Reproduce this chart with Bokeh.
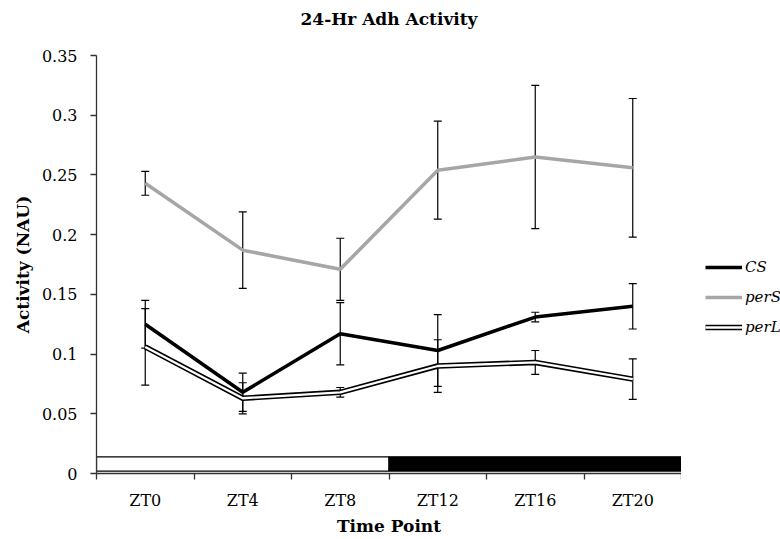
from bokeh.plotting import figure
from bokeh.layouts import row
from bokeh.models import (Whisker, ColumnDataSource, FixedTicker, Legend, LegendItem,
                          Range1d, TeeHead, LinearAxis)
from bokeh.embed import file_html
from bokeh.resources import INLINE

# ---------------- data ----------------
categories = ["ZT0", "ZT4", "ZT8", "ZT12", "ZT16", "ZT20"]
cs_mean = [0.125, 0.068, 0.117, 0.103, 0.131, 0.140]
cs_err = [0.020, 0.016, 0.026, 0.030, 0.004, 0.019]
pers_mean = [0.243, 0.187, 0.171, 0.254, 0.265, 0.256]
pers_err = [0.010, 0.032, 0.026, 0.041, 0.060, 0.058]
perl_mean = [0.106, 0.063, 0.068, 0.090, 0.093, 0.079]
perl_err = [0.032, 0.013, 0.004, 0.022, 0.010, 0.017]
phase = ["light", "light", "light", "dark", "dark", "dark"]
yticks = [0, 0.05, 0.1, 0.15, 0.2, 0.25, 0.3, 0.35]
ytick_labels = ["0", "0.05", "0.1", "0.15", "0.2", "0.25", "0.3", "0.35"]
series_names = ["CS", "perS", "perL"]

FONT = "DejaVu Serif"
xs = list(range(len(categories)))
n = len(categories)

CS_STYLE = dict(line_color="black", line_width=3.5)
PERS_STYLE = dict(line_color="#A6A6A6", line_width=3.5)
PERL_OUTER = dict(line_color="black", line_width=5.5)
PERL_INNER = dict(line_color="white", line_width=2.3)

BORDER_TOP, BORDER_BOTTOM = 55, 66
p = figure(width=681, height=539, output_backend="svg", toolbar_location=None,
           title_location=None,
           x_range=Range1d(-0.5, n - 0.5), y_range=Range1d(0, 0.35),
           min_border_left=96, min_border_right=0,
           min_border_top=BORDER_TOP, min_border_bottom=BORDER_BOTTOM)
p.outline_line_color = None
p.xgrid.grid_line_color = None
p.ygrid.grid_line_color = None

# day / night bar
segs = []
for i, ph in enumerate(phase):
    if segs and segs[-1][0] == ph:
        segs[-1][2] = i
    else:
        segs.append([ph, i, i])
bar_src = ColumnDataSource(dict(
    left=[s[1] - 0.5 for s in segs], right=[s[2] + 0.5 for s in segs],
    color=["white" if s[0] == "light" else "black" for s in segs]))
p.quad(left="left", right="right", bottom=0.002, top=0.014, source=bar_src,
       fill_color="color", line_color="black", line_width=1.2)

# lines
p.line(xs, cs_mean, **CS_STYLE)
p.line(xs, pers_mean, **PERS_STYLE)
p.line(xs, perl_mean, **PERL_OUTER)
p.line(xs, perl_mean, **PERL_INNER)

# error bars
for mean, err in ((cs_mean, cs_err), (pers_mean, pers_err), (perl_mean, perl_err)):
    src = ColumnDataSource(dict(x=xs, upper=[m + e for m, e in zip(mean, err)],
                                lower=[m - e for m, e in zip(mean, err)]))
    w = Whisker(source=src, base="x", upper="upper", lower="lower",
                line_color="black", line_width=1.2,
                upper_head=TeeHead(size=8, line_color="black", line_width=1.2),
                lower_head=TeeHead(size=8, line_color="black", line_width=1.2))
    p.add_layout(w)

# axes
xa = p.below[0]
ya = p.left[0]
xa.ticker = FixedTicker(ticks=xs, minor_ticks=[i - 0.5 for i in range(n + 1)])
xa.major_label_overrides = {i: c for i, c in zip(xs, categories)}
xa.major_tick_out = 0
xa.major_tick_in = 0
xa.minor_tick_out = 6
xa.minor_tick_in = 0
xa.minor_tick_line_color = "#333333"
xa.major_label_standoff = 11
xa.axis_label = "Time Point"
xa.axis_label_standoff = 3

ya.ticker = FixedTicker(ticks=yticks)
ya.major_label_overrides = {t: l for t, l in zip(yticks, ytick_labels)}
ya.major_tick_out = 6
ya.major_tick_in = 0
ya.major_label_standoff = 13
ya.axis_label = "Activity (NAU)"
ya.axis_label_standoff = 6

for ax in (xa, ya):
    ax.axis_line_color = "#333333"
    ax.axis_line_width = 1.3
    ax.major_tick_line_color = "#333333"
    ax.major_tick_line_width = 1.3
    ax.minor_tick_line_width = 1.3
    ax.major_label_text_font = FONT
    ax.major_label_text_font_size = "16px"
    ax.major_label_text_color = "black"
    ax.axis_label_text_font = FONT
    ax.axis_label_text_font_style = "bold"
    ax.axis_label_text_font_size = "17px"
    ax.axis_label_text_color = "black"

# title as the label of an otherwise invisible top axis (centred over the plot area)
top_axis = LinearAxis(ticker=FixedTicker(ticks=[]), axis_line_color=None,
                      major_tick_out=0, major_tick_in=0, minor_tick_out=0, minor_tick_in=0,
                      major_label_text_font_size="0px",
                      axis_label="24-Hr Adh Activity", axis_label_standoff=27,
                      axis_label_text_font=FONT, axis_label_text_font_style="bold",
                      axis_label_text_font_size="17px", axis_label_text_color="black")
p.add_layout(top_axis, "above")

# legend panel to the right of the plot area (proxy lines lie outside its ranges)
q = figure(width=99, height=539, output_backend="svg", toolbar_location=None,
           title_location=None, x_axis_type=None, y_axis_type=None,
           x_range=Range1d(-20, -10), y_range=Range1d(-20, -10), min_border=0)
q.outline_line_color = None
q.xgrid.grid_line_color = None
q.ygrid.grid_line_color = None
r_cs = q.line(xs, cs_mean, **CS_STYLE)
r_pers = q.line(xs, pers_mean, **PERS_STYLE)
r_perl_o = q.line(xs, perl_mean, **PERL_OUTER)
r_perl_i = q.line(xs, perl_mean, **PERL_INNER)
# the row aligns this frame with the main plot's frame
legend = Legend(items=[LegendItem(label=series_names[0], renderers=[r_cs]),
                       LegendItem(label=series_names[1], renderers=[r_pers]),
                       LegendItem(label=series_names[2], renderers=[r_perl_o, r_perl_i])],
                location=(24, 539 - BORDER_BOTTOM - 337), padding=0, margin=0, spacing=10,
                glyph_width=37, glyph_height=20, label_standoff=3, label_height=20,
                border_line_alpha=0, background_fill_alpha=0,
                label_text_font=FONT, label_text_font_style="italic",
                label_text_font_size="15px", label_text_color="black")
q.add_layout(legend)

layout = row(p, q, spacing=0)
open("out.html", "w").write(file_html(layout, INLINE))
